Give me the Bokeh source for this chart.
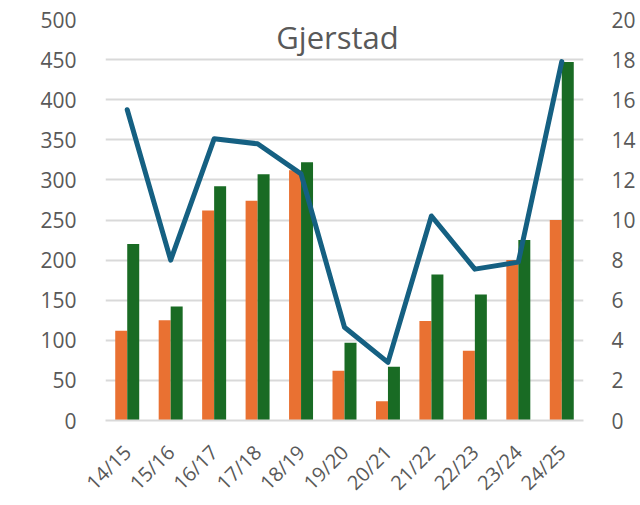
import math
from bokeh.plotting import figure
from bokeh.models import (ColumnDataSource, FactorRange, Range1d, LinearAxis,
                          FixedTicker, Label)
from bokeh.transform import dodge
from bokeh.embed import file_html
from bokeh.resources import INLINE

seasons = ["14/15", "15/16", "16/17", "17/18", "18/19", "19/20",
           "20/21", "21/22", "22/23", "23/24", "24/25"]
orange_vals = [112, 125, 262, 274, 312, 62, 24, 124, 87, 200, 250]
green_vals = [220, 142, 292, 307, 322, 97, 67, 182, 157, 225, 447]
line_vals = [15.5, 8.0, 14.05, 13.8, 12.3, 4.65, 2.9, 10.2, 7.55, 7.9, 17.9]
left_ticks = [0, 50, 100, 150, 200, 250, 300, 350, 400, 450, 500]
right_ticks = [0, 2, 4, 6, 8, 10, 12, 14, 16, 18, 20]
title_text = "Gjerstad"

FONT = "Open Sans"
TXT = "#595959"
GRID = "#d9d9d9"

src = ColumnDataSource(dict(season=seasons, orange=orange_vals,
                            green=green_vals, line=line_vals))

p = figure(x_range=FactorRange(*seasons, range_padding=0),
           y_range=Range1d(0, 500),
           frame_width=478, frame_height=401,
           min_border_left=105, min_border_right=49,
           min_border_top=19, min_border_bottom=77,
           output_backend="svg", toolbar_location=None,
           background_fill_color="white", border_fill_color="white")
p.outline_line_color = None
p.extra_y_ranges = {"right": Range1d(0, 20)}

p.vbar(x=dodge("season", -0.138, range=p.x_range), top="orange", width=0.276,
       source=src, color="#E97132", line_color=None)
p.vbar(x=dodge("season", 0.138, range=p.x_range), top="green", width=0.276,
       source=src, color="#196B24", line_color=None)
p.line(x="season", y="line", source=src, y_range_name="right",
       line_color="#156082", line_width=5, line_join="round", line_cap="round")

# axes
p.yaxis.ticker = FixedTicker(ticks=left_ticks)
right = LinearAxis(y_range_name="right", ticker=FixedTicker(ticks=right_ticks))
p.add_layout(right, "right")

for ax in [p.yaxis[0], right]:
    ax.axis_line_color = None
    ax.major_tick_line_color = None
    ax.minor_tick_line_color = None
    ax.major_label_text_font = FONT
    ax.major_label_text_font_size = "21px"
    ax.major_label_text_color = TXT
p.yaxis[0].major_label_standoff = 23
right.major_label_standoff = 22

xa = p.xaxis[0]
xa.axis_line_color = GRID
xa.axis_line_width = 2
xa.major_tick_line_color = None
xa.minor_tick_line_color = None
xa.major_label_orientation = math.pi / 4
xa.major_label_text_font = FONT
xa.major_label_text_font_size = "20px"
xa.major_label_text_color = TXT
xa.major_label_standoff = 22

p.xgrid.grid_line_color = None
p.ygrid.grid_line_color = GRID
p.ygrid.grid_line_width = 2

p.add_layout(Label(x=232, y=384, x_units="screen", y_units="screen",
                   text=title_text, text_font=FONT, text_font_size="31px",
                   text_color=TXT, text_align="center",
                   text_baseline="middle"))

open("out.html", "w").write(file_html(p, INLINE))
